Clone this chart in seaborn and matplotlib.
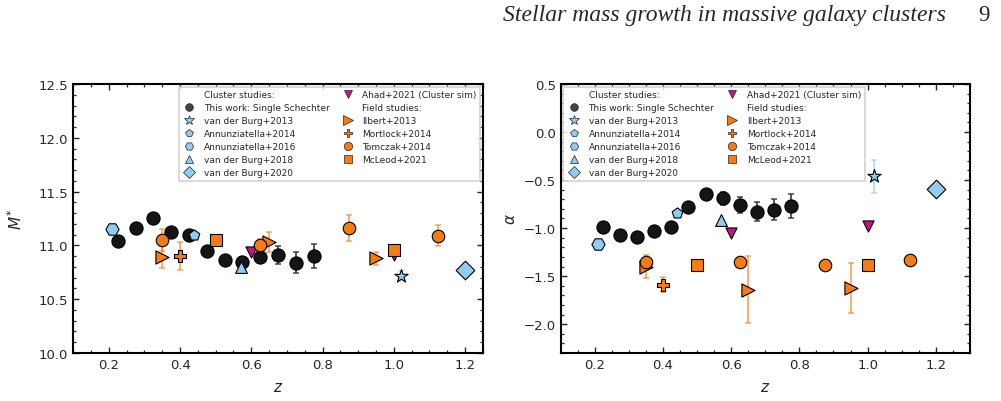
"""
Stellar mass growth in massive galaxy clusters - Schechter parameters vs redshift
"""

import numpy as np
import pandas as pd
import matplotlib
matplotlib.use("Agg")
import matplotlib.pyplot as plt
from matplotlib.lines import Line2D
from matplotlib.ticker import MultipleLocator
import seaborn as sns


# ──────────────────────────────────────────────
# Data
# ──────────────────────────────────────────────

# This work: Single Schechter
z_this = [0.225, 0.275, 0.325, 0.375, 0.425, 0.475, 0.525, 0.575, 0.625, 0.675, 0.725, 0.775]
mstar_this = [11.04, 11.16, 11.25, 11.12, 11.10, 10.95, 10.86, 10.85, 10.89, 10.91, 10.84, 10.90]
mstar_this_err = [0.03, 0.03, 0.04, 0.04, 0.03, 0.03, 0.03, 0.04, 0.05, 0.08, 0.10, 0.11]
alpha_this = [-0.99, -1.07, -1.09, -1.03, -0.99, -0.78, -0.64, -0.69, -0.76, -0.83, -0.81, -0.77]
alpha_this_err = [0.03, 0.03, 0.03, 0.03, 0.03, 0.03, 0.04, 0.07, 0.08, 0.10, 0.11, 0.13]

# Cluster studies
z_vdb13 = [1.02]
mstar_vdb13, mstar_vdb13_err = [10.72], [0.04]
alpha_vdb13, alpha_vdb13_err = [-0.46], [0.17]

z_ann14 = [0.44]
mstar_ann14, alpha_ann14 = [11.10], [-0.84]

z_ann16 = [0.21]
mstar_ann16, alpha_ann16 = [11.15], [-1.17]

z_vdb18 = [0.57]
mstar_vdb18, mstar_vdb18_err = [10.80], [0.03]
alpha_vdb18 = [-0.92]

z_vdb20 = [1.20]
mstar_vdb20, alpha_vdb20 = [10.77], [-0.59]

z_ahad = [0.60, 1.00]
mstar_ahad, alpha_ahad = [10.94, 10.91], [-1.05, -0.98]

# Field studies
z_ilbert = [0.35, 0.65, 0.95]
mstar_ilbert, mstar_ilbert_err = [10.89, 11.03, 10.88], [0.10, 0.09, 0.06]
alpha_ilbert, alpha_ilbert_err = [-1.40, -1.64, -1.62], [0.12, 0.35, 0.26]

z_mortlock = [0.40]
mstar_mortlock, mstar_mortlock_err = [10.90], [0.13]
alpha_mortlock, alpha_mortlock_err = [-1.59], [0.08]

z_tomczak = [0.35, 0.625, 0.875, 1.125]
mstar_tomczak, mstar_tomczak_err = [11.05, 11.00, 11.16, 11.09], [0.10, 0.06, 0.12, 0.10]
alpha_tomczak, alpha_tomczak_err = [-1.35, -1.35, -1.38, -1.33], [0.03, 0.03, 0.03, 0.03]

z_mcleod = [0.50, 1.00]
mstar_mcleod, alpha_mcleod = [11.05, 10.96], [-1.38, -1.38]


# ──────────────────────────────────────────────
# Styling
# ──────────────────────────────────────────────

BLACK = "#151515"
BLUE = "#8fcdf5"
ORANGE = "#f57c12"
MAGENTA = "#c0168a"

studies = ["this", "vdb13", "ann14", "ann16", "vdb18", "vdb20", "ahad",
           "ilbert", "mortlock", "tomczak", "mcleod"]
labels = {
    "this": "This work: Single Schechter",
    "vdb13": "van der Burg+2013",
    "ann14": "Annunziatella+2014",
    "ann16": "Annunziatella+2016",
    "vdb18": "van der Burg+2018",
    "vdb20": "van der Burg+2020",
    "ahad": "Ahad+2021 (Cluster sim)",
    "ilbert": "Ilbert+2013",
    "mortlock": "Mortlock+2014",
    "tomczak": "Tomczak+2014",
    "mcleod": "McLeod+2021",
}
markers = {"this": "o", "vdb13": "*", "ann14": "p", "ann16": "H", "vdb18": "^",
           "vdb20": "D", "ahad": "v", "ilbert": ">", "mortlock": "P",
           "tomczak": "o", "mcleod": "s"}
colors = {"this": BLACK, "vdb13": BLUE, "ann14": BLUE, "ann16": BLUE, "vdb18": BLUE,
          "vdb20": BLUE, "ahad": MAGENTA, "ilbert": ORANGE, "mortlock": ORANGE,
          "tomczak": ORANGE, "mcleod": ORANGE}
msize = {"this": 9.5, "vdb13": 10, "ann14": 8, "ann16": 9.5, "vdb18": 8.5,
         "vdb20": 9.5, "ahad": 8, "ilbert": 9.5, "mortlock": 9,
         "tomczak": 9, "mcleod": 8.5}
legend_ms = {"this": 5.5, "vdb13": 7, "ann14": 6, "ann16": 6, "vdb18": 6,
             "vdb20": 6.5, "ahad": 6, "ilbert": 6.5, "mortlock": 6,
             "tomczak": 6, "mcleod": 5.5}
zorders = {"this": 3, "ahad": 2}


def build_frame(param):
    """Stack the per-study arrays into one long DataFrame for seaborn."""
    table = {
        "this": (z_this, mstar_this, mstar_this_err, alpha_this, alpha_this_err),
        "vdb13": (z_vdb13, mstar_vdb13, mstar_vdb13_err, alpha_vdb13, alpha_vdb13_err),
        "ann14": (z_ann14, mstar_ann14, None, alpha_ann14, None),
        "ann16": (z_ann16, mstar_ann16, None, alpha_ann16, None),
        "vdb18": (z_vdb18, mstar_vdb18, mstar_vdb18_err, alpha_vdb18, None),
        "vdb20": (z_vdb20, mstar_vdb20, None, alpha_vdb20, None),
        "ahad": (z_ahad, mstar_ahad, None, alpha_ahad, None),
        "ilbert": (z_ilbert, mstar_ilbert, mstar_ilbert_err, alpha_ilbert, alpha_ilbert_err),
        "mortlock": (z_mortlock, mstar_mortlock, mstar_mortlock_err, alpha_mortlock, alpha_mortlock_err),
        "tomczak": (z_tomczak, mstar_tomczak, mstar_tomczak_err, alpha_tomczak, alpha_tomczak_err),
        "mcleod": (z_mcleod, mstar_mcleod, None, alpha_mcleod, None),
    }
    rows = []
    for key in studies:
        z, m, me, a, ae = table[key]
        vals, errs = (m, me) if param == "mstar" else (a, ae)
        for i in range(len(z)):
            rows.append({"study": key, "z": z[i], "val": vals[i],
                         "err": errs[i] if errs is not None else np.nan})
    return pd.DataFrame(rows)


def draw_panel(ax, df):
    """Error bars first, then markers per study on top."""
    for key in studies:
        sub = df[df["study"] == key]
        if sub["err"].notna().any():
            ecol = "#333333" if key == "this" else colors[key]
            ax.errorbar(sub["z"], sub["val"], yerr=sub["err"], fmt="none",
                        ecolor=ecol, alpha=0.9 if key == "this" else 0.65,
                        elinewidth=1.3, capsize=2.5, capthick=1.1, zorder=1)
    for key in studies:
        sub = df[df["study"] == key]
        sns.scatterplot(data=sub, x="z", y="val", ax=ax, marker=markers[key],
                        color=colors[key], s=msize[key] ** 2, edgecolor="black",
                        linewidth=0.8, legend=False, zorder=zorders.get(key, 4))


def add_legend(ax, loc):
    blank = Line2D([], [], linestyle="none")

    def h(key):
        return Line2D([], [], linestyle="none", marker=markers[key],
                      markerfacecolor=colors[key] if key != "this" else "#444444",
                      markeredgecolor="#222222", markeredgewidth=0.5,
                      markersize=legend_ms[key])

    handles = [blank, h("this"), h("vdb13"), h("ann14"), h("ann16"), h("vdb18"), h("vdb20"),
               h("ahad"), blank, h("ilbert"), h("mortlock"), h("tomczak"), h("mcleod")]
    texts = ["Cluster studies:"] + [labels[k] for k in ["this", "vdb13", "ann14", "ann16", "vdb18", "vdb20"]] + \
            [labels["ahad"], "Field studies:"] + [labels[k] for k in ["ilbert", "mortlock", "tomczak", "mcleod"]]
    leg = ax.legend(handles, texts, loc=loc, ncol=2, fontsize=6.5, handlelength=1.6,
                    labelspacing=0.44, columnspacing=1.2, borderaxespad=0.3,
                    frameon=True, fancybox=False, framealpha=0.85)
    leg.get_frame().set_edgecolor("#cccccc")
    leg.get_frame().set_linewidth(1.2)
    return leg


def style_axes(ax):
    ax.xaxis.set_major_locator(MultipleLocator(0.2))
    ax.xaxis.set_minor_locator(MultipleLocator(0.05))
    ax.yaxis.set_major_locator(MultipleLocator(0.5))
    ax.yaxis.set_minor_locator(MultipleLocator(0.1))
    ax.tick_params(which="both", direction="in", top=True, right=True, labelsize=9.5)
    ax.tick_params(which="major", length=4.5, width=1.0)
    ax.tick_params(which="minor", length=2.2, width=0.9)
    for sp in ax.spines.values():
        sp.set_linewidth(1.5)
        sp.set_color("black")
    ax.set_xlabel("$z$", fontsize=11, labelpad=6)


# ──────────────────────────────────────────────
# Figure
# ──────────────────────────────────────────────

sns.set_style("ticks")
plt.rcParams["font.family"] = ["DejaVu Sans"]
plt.rcParams["mathtext.fontset"] = "dejavusans"

fig, (ax1, ax2) = plt.subplots(1, 2, figsize=(10.01, 4.02), dpi=100)
fig.subplots_adjust(left=0.0732, right=0.969, bottom=0.1194, top=0.7886, wspace=0.19)

draw_panel(ax1, build_frame("mstar"))
ax1.set_xlim(0.1, 1.25)
ax1.set_ylim(10.0, 12.5)
style_axes(ax1)
ax1.set_ylabel("$M^{*}$", fontsize=11, labelpad=10)
add_legend(ax1, "upper right")

draw_panel(ax2, build_frame("alpha"))
ax2.set_xlim(0.1, 1.3)
ax2.set_ylim(-2.3, 0.5)
style_axes(ax2)
ax2.set_ylabel(r"$\alpha$", fontsize=11)
add_legend(ax2, "upper left")

# running page header from the paper
fig.text(0.945, 0.949, "Stellar mass growth in massive galaxy clusters",
         ha="right", va="baseline", fontsize=17, style="italic",
         family=["Liberation Serif", "DejaVu Serif"])
fig.text(0.989, 0.949, "9", ha="right", va="baseline", fontsize=16.5,
         family=["Liberation Serif", "DejaVu Serif"])

fig.savefig("out.png", dpi=100)
